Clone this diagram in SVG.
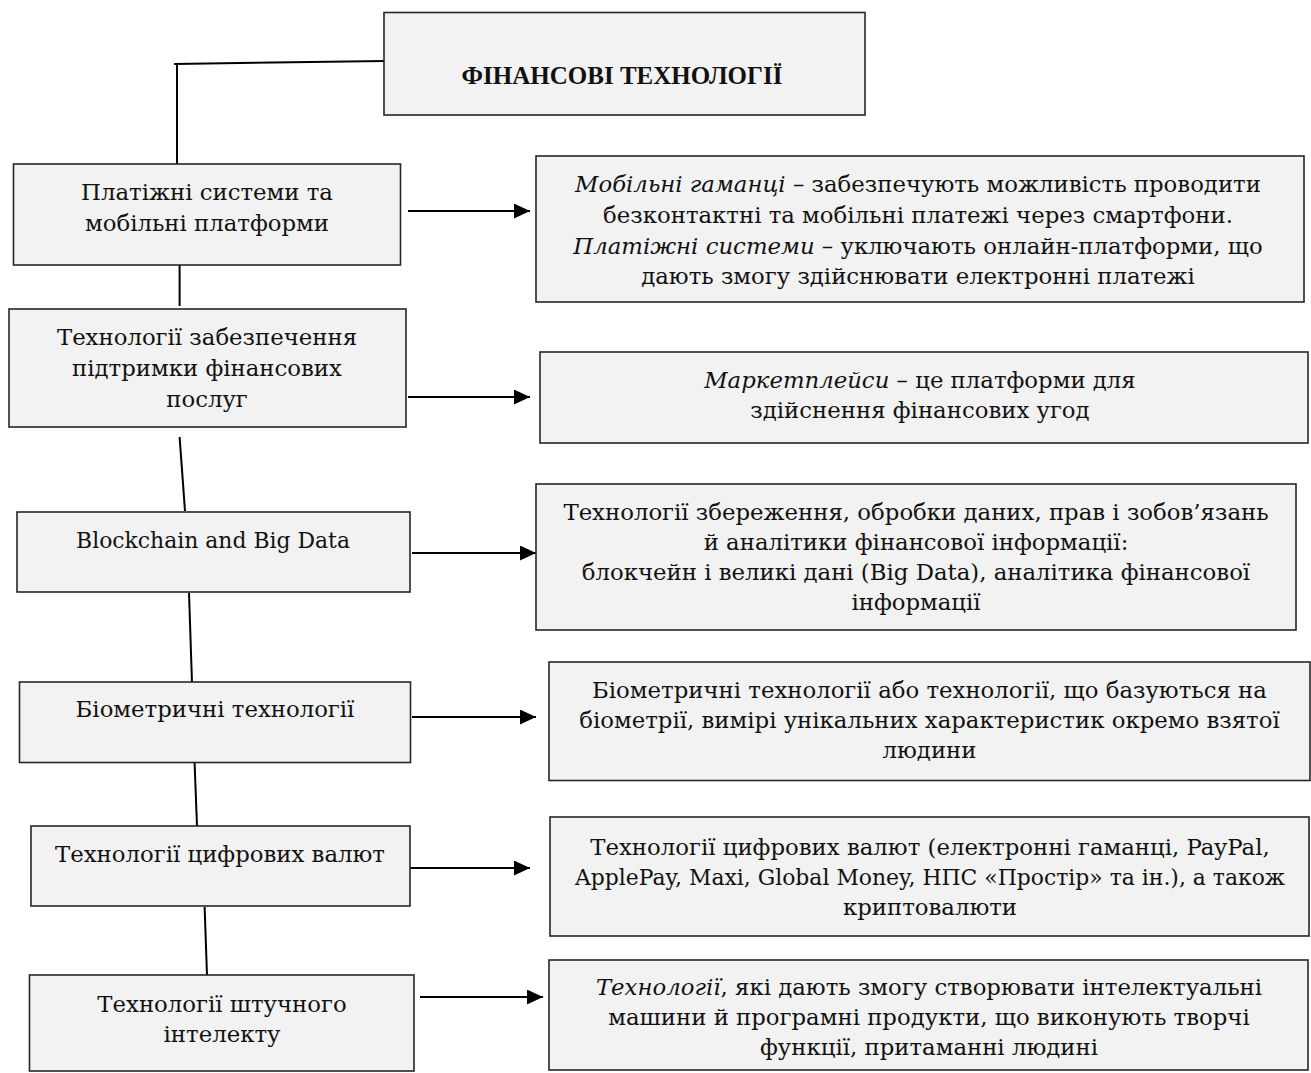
<svg xmlns="http://www.w3.org/2000/svg" width="1311" height="1073" viewBox="0 0 1311 1073">
<style>
.box{fill:#f2f2f2;stroke:#262626;stroke-width:1.6}
.t{font-family:"DejaVu Serif","Liberation Serif",serif;font-size:22.8px;fill:#111;text-anchor:middle}
.s{font-size:21.9px}
.i{font-style:italic}
.title{font-family:"Liberation Serif","Times New Roman",serif;font-size:25px;font-weight:bold;fill:#111;text-anchor:middle}
.c{stroke:#000;stroke-width:2;fill:none}
.a{stroke:#000;stroke-width:2;fill:none;marker-end:url(#ah)}
</style>
<defs>
<marker id="ah" markerUnits="userSpaceOnUse" markerWidth="17" markerHeight="16" refX="16" refY="7.5" orient="auto">
<path d="M0,0 L16,7.5 L0,15 z" fill="#000"/>
</marker>
</defs>
<rect width="1311" height="1073" fill="#fff"/>
<g id="connectors">
<path class="c" d="M174,64 L385,61"/>
<path class="c" d="M177,64 L177,164"/>
<path class="c" d="M179.6,243 L179.6,306"/>
<path class="c" d="M179.6,437 L185,511"/>
<path class="c" d="M189,593 L192,683"/>
<path class="c" d="M194.6,763 L197,826"/>
<path class="c" d="M204.6,907 L207,975"/>
<path class="a" d="M408,211 L530,211"/>
<path class="a" d="M408,397 L530,397"/>
<path class="a" d="M412,553 L536,553"/>
<path class="a" d="M412,717 L536,717"/>
<path class="a" d="M407,868 L530,868"/>
<path class="a" d="M420,997 L543,997"/>
</g>
<g id="title">
<rect class="box" x="384" y="12.5" width="481" height="102.5"/>
<text class="title" x="622" y="84">ФІНАНСОВІ ТЕХНОЛОГІЇ</text>
</g>
<g id="left1">
<rect class="box" x="13.5" y="164" width="387" height="101"/>
<text class="t" x="207" y="200">Платіжні системи та</text>
<text class="t" x="207" y="231">мобільні платформи</text>
</g>
<g id="left2">
<rect class="box" x="9" y="309" width="397" height="118"/>
<text class="t" x="207" y="345">Технології забезпечення</text>
<text class="t" x="207" y="375.5">підтримки фінансових</text>
<text class="t" x="207" y="406.5">послуг</text>
</g>
<g id="left3">
<rect class="box" x="17" y="512" width="393" height="80"/>
<text class="t s" x="213" y="548">Blockchain and Big Data</text>
</g>
<g id="left4">
<rect class="box" x="19.5" y="682" width="391" height="80.5"/>
<text class="t" x="215" y="717">Біометричні технології</text>
</g>
<g id="left5">
<rect class="box" x="31" y="826" width="379" height="80"/>
<text class="t" x="220" y="862">Технології цифрових валют</text>
</g>
<g id="left6">
<rect class="box" x="29.5" y="975" width="384.5" height="96"/>
<text class="t" x="222" y="1012">Технології штучного</text>
<text class="t" x="222" y="1042">інтелекту</text>
</g>
<g id="right1">
<rect class="box" x="536" y="156" width="768" height="146"/>
<text class="t" x="918" y="192"><tspan class="i">Мобільні гаманці</tspan> – забезпечують можливість проводити</text>
<text class="t" x="918" y="223">безконтактні та мобільні платежі через смартфони.</text>
<text class="t" x="918" y="253.5"><tspan class="i">Платіжні системи</tspan> – уключають онлайн-платформи, що</text>
<text class="t" x="918" y="284">дають змогу здійснювати електронні платежі</text>
</g>
<g id="right2">
<rect class="box" x="540" y="352" width="768" height="91"/>
<text class="t" x="920" y="388"><tspan class="i">Маркетплейси</tspan> – це платформи для</text>
<text class="t" x="920" y="418">здійснення фінансових угод</text>
</g>
<g id="right3">
<rect class="box" x="536" y="484" width="760" height="146"/>
<text class="t" x="916" y="520">Технології збереження, обробки даних, прав і зобов’язань</text>
<text class="t" x="916" y="550">й аналітики фінансової інформації:</text>
<text class="t" x="916" y="580">блокчейн і великі дані (Big Data), аналітика фінансової</text>
<text class="t" x="916" y="610">інформації</text>
</g>
<g id="right4">
<rect class="box" x="549" y="662" width="761" height="118.5"/>
<text class="t" x="929.5" y="698">Біометричні технології або технології, що базуються на</text>
<text class="t" x="929.5" y="728">біометрії, вимірі унікальних характеристик окремо взятої</text>
<text class="t" x="929.5" y="758">людини</text>
</g>
<g id="right5">
<rect class="box" x="550" y="817" width="759" height="119"/>
<text class="t" x="930" y="855">Технології цифрових валют (електронні гаманці, PayPal,</text>
<text class="t s" x="930" y="885">ApplePay, Maxi, Global Money, НПС «Простір» та ін.), а також</text>
<text class="t" x="930" y="915">криптовалюти</text>
</g>
<g id="right6">
<rect class="box" x="549" y="960" width="759" height="110"/>
<text class="t" x="929" y="995"><tspan class="i">Технології</tspan>, які дають змогу створювати інтелектуальні</text>
<text class="t" x="929" y="1025">машини й програмні продукти, що виконують творчі</text>
<text class="t" x="929" y="1055">функції, притаманні людині</text>
</g>
</svg>
